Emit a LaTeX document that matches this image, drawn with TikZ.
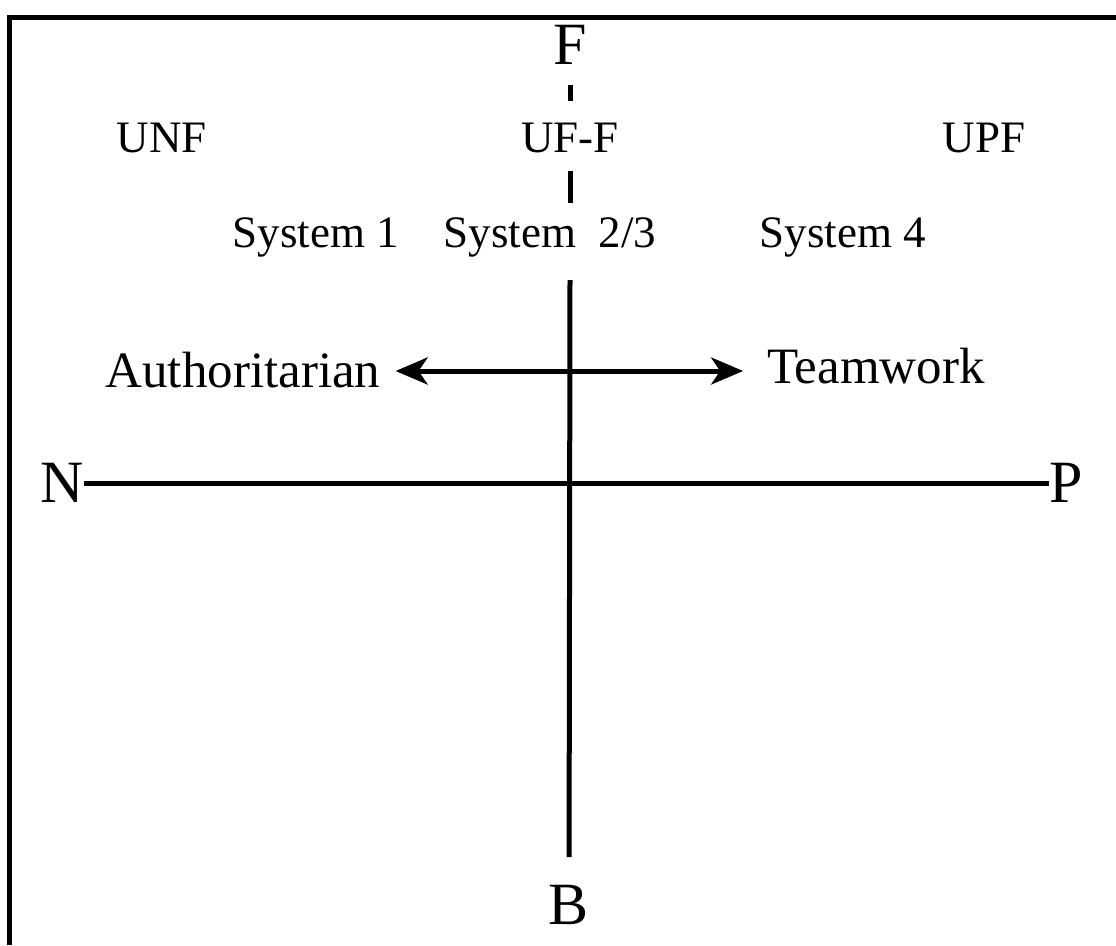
\documentclass[tikz,border=0pt]{standalone}
\usepackage{fontspec}
\setmainfont{Liberation Serif}
\usetikzlibrary{arrows.meta}

\begin{document}
\begin{tikzpicture}[x=1pt,y=-1pt,
  lbl/.style={font=\fontsize{45}{48}\selectfont, inner sep=0pt},
  big/.style={font=\fontsize{51}{56}\selectfont, inner sep=0pt},
  pole/.style={font=\fontsize{60}{66}\selectfont, inner sep=0pt},
  axis/.style={line width=5pt},
  twoway/.style={line width=5pt,
    {Stealth[length=32pt,width=27pt,inset=9pt]}-{Stealth[length=32pt,width=27pt,inset=9pt]}}]
\useasboundingbox (0,0) rectangle (1116,945);

% frame (open on the right)
\draw[line width=5pt] (9,945) -- (9,17) -- (1116,17);

% poles
\node[pole] (F) at (570,45) {F};
\node[pole] (B) at (569,905) {B};
\node[pole] (N) at (62,483) {N};
\node[pole] (P) at (1066,483) {P};

% labels
\node[lbl] (UNF) at (162,138) {UNF};
\node[lbl] (UFF) at (570,138) {UF-F};
\node[lbl] (UPF) at (984,138) {UPF};
\node[lbl] (S1) at (316,237) {System 1};
\node[lbl] (S23) at (550,237) {System\ \ 2/3};
\node[lbl] (S4) at (843,237) {System 4};
\node[big] (Auth) at (243,370) {Authoritarian};
\node[big] (Team) at (876,366) {Teamwork};

% vertical axis
\coordinate (top) at (570,280);
\draw[axis] (F) -- (UFF) [shorten <=20pt, shorten >=22pt];
\draw[axis, shorten <=18pt, shorten >=14pt] (UFF) -- (UFF |- S23.north);
\draw[axis, shorten >=28pt] (top) -- (B);

% horizontal axis
\draw[axis] (N.east) -- (P.west);

% style arrow
\draw[twoway] (Auth.east) ++(15,1) coordinate (a1) -- (Team.west |- a1) [shorten >=24pt];
\end{tikzpicture}
\end{document}
